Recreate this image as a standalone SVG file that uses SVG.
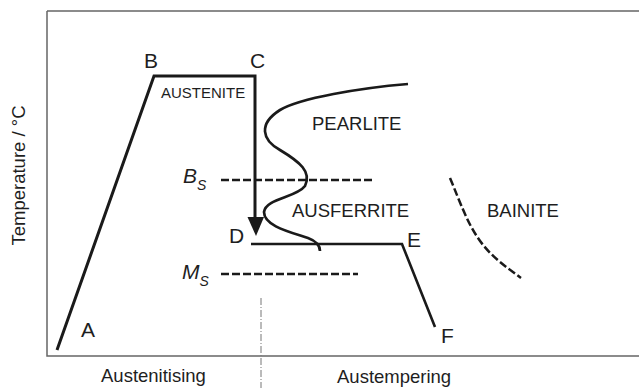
<svg xmlns="http://www.w3.org/2000/svg" width="639" height="388" viewBox="0 0 639 388">
<style>
text{font-family:"Liberation Sans",Arial,sans-serif;fill:#1e1e1e}
.big{font-size:21px}
.lab{font-size:18.5px}
.thick{fill:none;stroke:#1a1a1a;stroke-width:3;stroke-linejoin:miter}
.dash{fill:none;stroke:#1a1a1a;stroke-width:2.5;stroke-dasharray:8 3}
</style>
<rect width="639" height="388" fill="#fff"/>
<g id="frame">
<path d="M47,11 H639 M47,11 V356 H639" fill="none" stroke="#666" stroke-width="1.5"/>
<line x1="261" y1="298" x2="261" y2="388" stroke="#777" stroke-width="1" stroke-dasharray="7 2 1 2"/>
</g>
<g id="axis-labels">
<text class="lab" transform="translate(25,175.5) rotate(-90)" text-anchor="middle">Temperature / °C</text>
<text class="lab" x="101" y="382">Austenitising</text>
<text class="lab" x="337" y="383">Austempering</text>
</g>
<g id="connectors">
<polyline class="thick" points="57,350 154,76 255,76 255,218"/>
<polygon points="247.5,217 264,217 256,236" fill="#1a1a1a"/>
<polyline class="thick" points="251,244 402,244 435,327" style="stroke-width:2.6"/>
<path class="thick" style="stroke-width:2.7" d="M408,84 C360,88 300,98 280,110 C258,124 262,140 280,150 C300,162 312,172 305,186 C296,198 266,198 264,212 C264,226 290,232 308,238 C316,241 320,246 320,251"/>
<line class="dash" x1="221" y1="180" x2="374" y2="180"/>
<line class="dash" x1="221" y1="274" x2="358" y2="274"/>
<path class="dash" d="M450,178 C460,202 467,222 478,238 C490,256 505,266 521,278"/>
</g>
<g id="labels">
<text class="big" x="144" y="68">B</text>
<text class="big" x="250" y="68">C</text>
<text class="big" x="229" y="243">D</text>
<text class="big" x="407" y="247">E</text>
<text class="big" x="441" y="343">F</text>
<text class="big" x="81" y="337">A</text>
<text x="161" y="98" style="font-size:15px">AUSTENITE</text>
<text class="lab" x="312" y="130">PEARLITE</text>
<text class="lab" x="292" y="217">AUSFERRITE</text>
<text class="lab" x="487" y="217">BAINITE</text>
<text class="big" x="183" y="183" font-style="italic">B<tspan dy="7" font-size="14">S</tspan></text>
<text class="big" x="182" y="279" font-style="italic">M<tspan dy="7" font-size="14">S</tspan></text>
</g>
</svg>
